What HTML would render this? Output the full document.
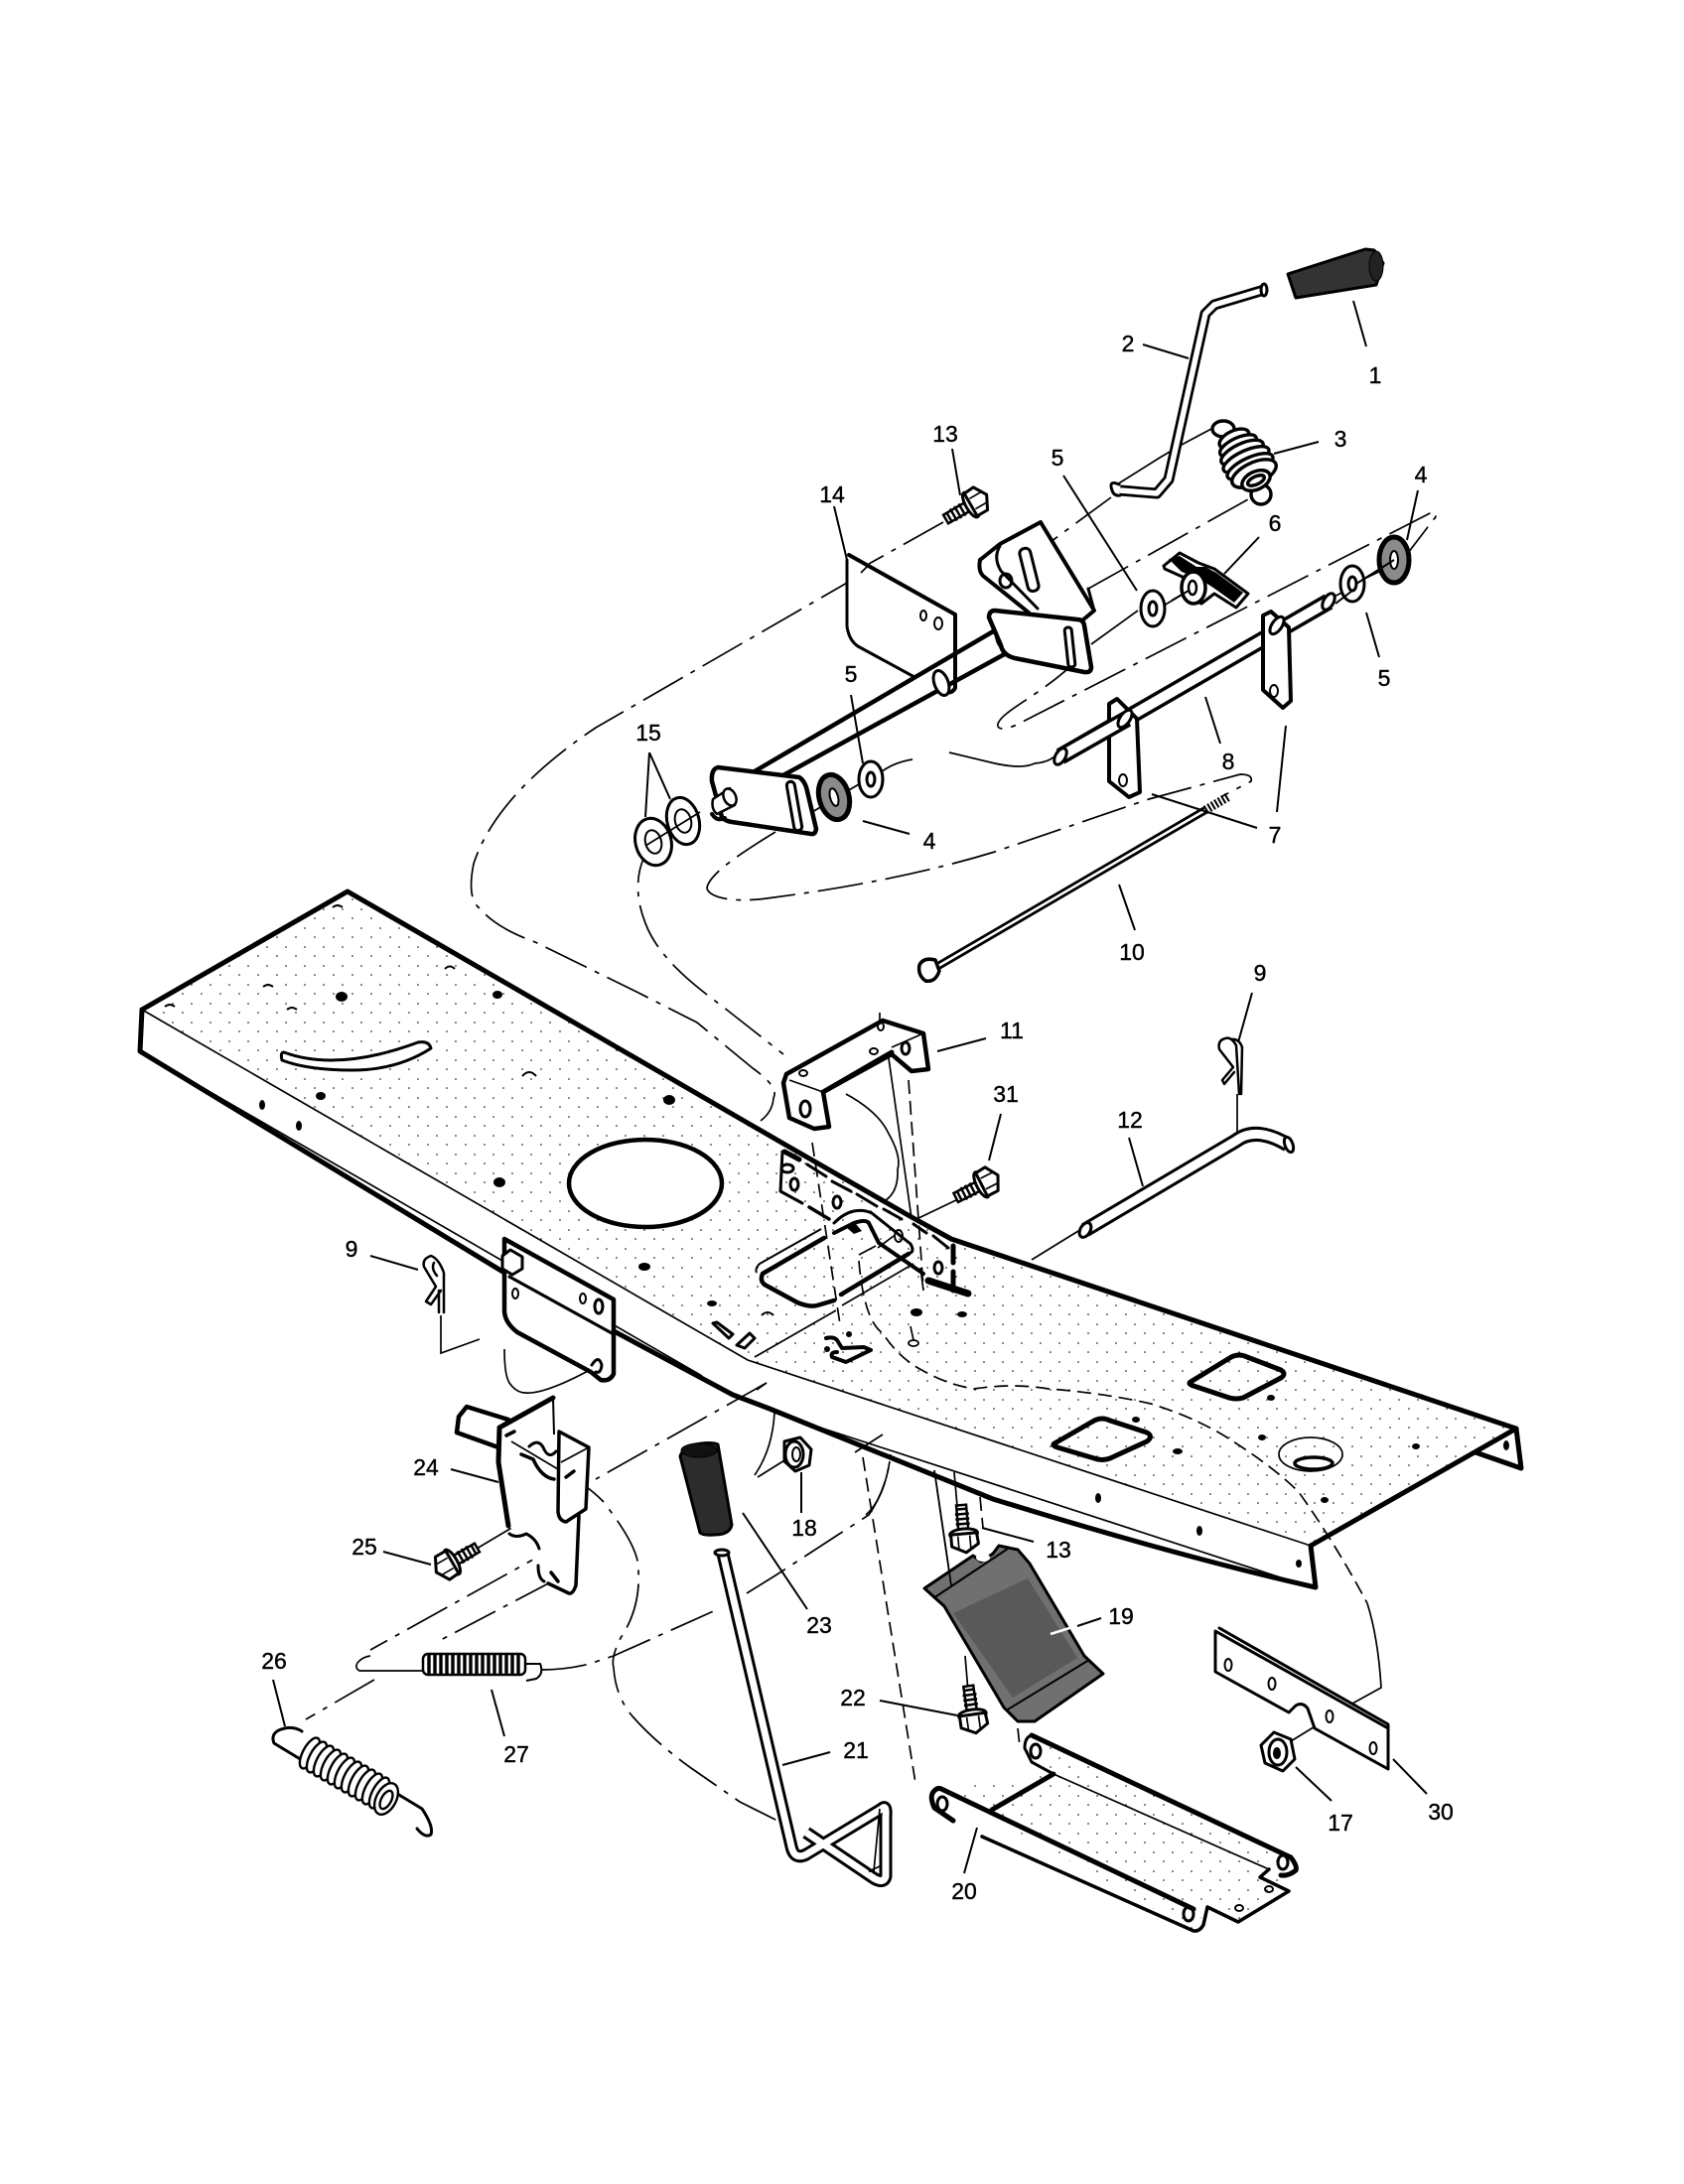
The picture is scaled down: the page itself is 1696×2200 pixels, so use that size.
<!DOCTYPE html>
<html><head><meta charset="utf-8"><title>Parts diagram</title>
<style>
html,body{margin:0;padding:0;background:#fff}
svg{display:block}
text{font-family:"Liberation Sans",sans-serif;font-size:23px;fill:#000;stroke:#000;stroke-width:.4;text-anchor:middle;dominant-baseline:central}
.t{fill:none;stroke:#000;stroke-width:5;stroke-linejoin:round;stroke-linecap:round}
.m{fill:none;stroke:#000;stroke-width:3;stroke-linejoin:round;stroke-linecap:round}
.n{fill:none;stroke:#000;stroke-width:1.7}
.l{fill:none;stroke:#000;stroke-width:2}
.d{fill:none;stroke:#000;stroke-width:1.7;stroke-dasharray:46 9 5 9}
.e{fill:none;stroke:#000;stroke-width:1.7;stroke-dasharray:14 7}
.w{fill:#fff;stroke:#000;stroke-width:3;stroke-linejoin:round}
.k{fill:#000}
.g{fill:#4a4a4a;stroke:#000;stroke-width:3;stroke-linejoin:round}
.tb{fill:none;stroke:#000;stroke-linecap:butt;stroke-linejoin:round}
.tw{fill:none;stroke:#fff;stroke-linecap:butt;stroke-linejoin:round}
</style></head><body>
<svg width="1696" height="2200" viewBox="0 0 1696 2200" xmlns="http://www.w3.org/2000/svg">
<defs>
<pattern id="st" width="19" height="19" patternUnits="userSpaceOnUse"><circle cx="3" cy="4" r=".8" fill="#000"/><circle cx="13" cy="13" r=".8" fill="#000"/></pattern>
<g id="bolt"><rect x="-34" y="-5" width="26" height="10" fill="#fff" stroke="#000" stroke-width="2.5"/>
<path d="M-30-6V6M-25-7V7M-20-7V7M-15-7V7" stroke="#000" stroke-width="2.5" fill="none"/>
<ellipse cx="-5" cy="0" rx="5" ry="14" class="w"/><path d="M-5-13L6-14L14-1L7 13L-5 13Z" class="w"/><path d="M-3-6L10-6M-3 6L10 6" class="n"/></g>
<g id="wash"><ellipse rx="12" ry="18" class="w"/><ellipse rx="4" ry="7" class="w"/></g>
<g id="dwash"><ellipse rx="15" ry="23" fill="#8a8a8a" stroke="#000" stroke-width="5"/><ellipse rx="4" ry="9" fill="#fff" stroke="#000" stroke-width="2"/></g>
</defs>

<!-- deck -->
<path d="M350,898L958,1249L1527,1439L1320,1557L753,1370L143,1017Z" fill="url(#st)"/>
<path class="t" d="M143,1017L350,898L789,1152L918,1226L958,1248L1527,1439L1532,1479L1486,1463"/>
<path class="t" d="M1527,1439L1320,1557L1325,1599Q1188,1568 1000,1510L775,1419L738,1405L508,1282L141,1059L143,1017"/>
<path class="n" d="M143,1017L753,1370L1320,1557M760,1367L842,1320M848,1315L920,1273M189,1087L707,1386M780,1423L1308,1595"/>
<ellipse cx="650" cy="1192" rx="77" ry="44" fill="#fff" stroke="#000" stroke-width="4.5"/>
<path class="m" style="fill:#fff" d="M286,1060Q340,1080 421,1050Q432,1048 434,1056Q400,1078 355,1078Q310,1078 284,1068Q282,1060 286,1060Z"/>
<g class="k">
<ellipse cx="344" cy="1004" rx="6" ry="5"/><ellipse cx="501" cy="1002" rx="5" ry="4"/><ellipse cx="674" cy="1108" rx="6" ry="5"/><ellipse cx="323" cy="1104" rx="5" ry="4"/><ellipse cx="264" cy="1113" rx="3" ry="5"/><ellipse cx="301" cy="1134" rx="3" ry="5"/><ellipse cx="503" cy="1191" rx="6" ry="5"/><ellipse cx="649" cy="1276" rx="6" ry="4"/><ellipse cx="717" cy="1313" rx="5" ry="3"/>
<ellipse cx="1280" cy="1408" rx="4" ry="3"/><ellipse cx="1144" cy="1430" rx="4" ry="3"/><ellipse cx="1186" cy="1462" rx="5" ry="3"/><ellipse cx="1271" cy="1448" rx="4" ry="3"/><ellipse cx="1426" cy="1457" rx="4" ry="3"/><ellipse cx="1334" cy="1511" rx="4" ry="3"/><ellipse cx="1106" cy="1509" rx="3" ry="5"/><ellipse cx="1208" cy="1542" rx="3" ry="5"/><ellipse cx="1308" cy="1575" rx="3" ry="4"/><ellipse cx="1517" cy="1456" rx="3" ry="5"/><ellipse cx="923" cy="1322" rx="6" ry="4"/><ellipse cx="969" cy="1324" rx="5" ry="3"/>
</g>
<ellipse cx="920" cy="1353" rx="5" ry="3" class="n"/>
<path class="l" d="M335,914Q340,910 345,914M448,976Q453,971 458,976M265,994Q270,990 275,994M166,1014Q171,1010 176,1014M289,1017Q294,1013 299,1017M526,1084Q533,1076 540,1084M767,1325Q773,1319 779,1325"/>
<path class="m" d="M718,1333L722,1332L738,1344L734,1348Z M742,1355L755,1343L760,1348L750,1358Z"/>
<!-- square holes -->
<path class="t" d="M1199,1392L1240,1367Q1248,1363 1256,1367L1290,1380Q1296,1384 1290,1388L1252,1408Q1245,1410 1238,1408L1202,1396Q1196,1394 1199,1392Z"/>
<path class="t" d="M1062,1454L1102,1431Q1110,1427 1118,1431L1155,1443Q1162,1447 1155,1452L1118,1469Q1110,1472 1102,1469L1065,1458Q1059,1456 1062,1454Z"/>
<ellipse cx="1320" cy="1465" rx="32" ry="17" class="n"/>
<ellipse cx="1323" cy="1474" rx="19" ry="6" fill="#fff" stroke="#000" stroke-width="3.5"/>

<!-- central bracket on deck -->
<path class="m" d="M788,1160L786,1200L808,1212"/>
<path class="t" style="stroke-width:3.5" d="M815,1216L835,1228"/>
<path class="m" d="M813,1173L832,1185M838,1190L857,1200M863,1203L883,1215M890,1218L908,1228M920,1233L933,1242M940,1245L955,1257"/>
<path class="t" d="M790,1160L805,1168"/>
<ellipse cx="793" cy="1177" rx="6" ry="4" class="m"/>
<ellipse cx="800" cy="1193" rx="4" ry="6" class="m"/><ellipse cx="843" cy="1211" rx="4" ry="6" class="m"/><ellipse cx="945" cy="1277" rx="4" ry="6" class="m"/>
<path class="t" style="stroke-width:4.5" d="M830,1247L768,1283Q765,1290 770,1294L803,1312Q815,1317 823,1315L840,1310"/>
<path class="n" style="stroke-width:2" d="M827,1238L765,1273Q760,1278 762,1282"/>
<path class="m" d="M840,1232Q850,1222 860,1220Q870,1218 878,1222L917,1253Q921,1260 917,1262L910,1265"/>
<path class="t" style="stroke-width:4.5" d="M847,1304L915,1263"/>
<path class="t" style="stroke-width:4" d="M840,1242L860,1232Q872,1228 875,1232L885,1252L930,1283"/>
<path class="k" d="M852,1236L862,1233L868,1240L860,1243Z"/>
<path class="n" d="M865,1264L882,1255M884,1257L900,1245"/>
<ellipse cx="905" cy="1245" rx="4" ry="6" class="l"/>
<path class="t" style="stroke-width:5" d="M960,1255L960,1272M960,1281L960,1300"/>
<path class="t" style="stroke-width:7" d="M935,1290L975,1303"/>
<path class="t" style="stroke-width:4" d="M832,1348Q840,1346 843,1350L848,1358L870,1357L877,1360L852,1372L838,1367Q836,1362 843,1362"/>
<circle cx="855" cy="1344" r="3" class="k"/><circle cx="833" cy="1359" r="3" class="k"/>

<!-- connectors -->
<path class="d" d="M950,526L875,568"/>
<path class="d" d="M867,579L600,733Q500,800 477,870Q470,905 483,915Q500,935 539,949L641,999L702,1030L758,1076Q785,1095 779,1106Q778,1120 766,1129"/>
<path class="d" d="M659,847C640,870 638,900 650,930C665,970 710,1000 733,1018L789,1062"/>
<path class="d" d="M781,838C745,860 715,880 712,894C712,903 735,910 772,905C850,895 930,880 1002,858L1157,805L1249,780Q1262,780 1260,787L1231,802"/>
<path class="d" d="M1088,662C1050,700 1010,715 1005,729C1003,738 1020,733 1030,727L1444,515Q1448,520 1444,523L1418,557"/>
<path class="d" d="M1096,593L1257,503"/>
<path class="d" d="M1028,568L1119,501"/>
<path class="n" d="M1220,432L1190,448L1168,461L1125,488"/>
<path class="n" d="M1099,649L1146,615M1172,610L1197,595M818,818L870,787"/>
<path class="n" d="M887,778Q900,768 919,765M956,758Q985,765 1002,769Q1030,775 1042,769Q1055,768 1062,762"/>
<path class="n" d="M1372,586L1338,604M1395,573L1372,584"/>
<path class="n" d="M444,1325L444,1363L483,1349M508,1359Q508,1385 513,1393Q520,1403 529,1403Q550,1405 605,1374"/>
<path class="e" d="M865,1270Q870,1330 889,1343Q905,1368 930,1381Q955,1395 981,1399Q1020,1393 1056,1399Q1110,1403 1159,1414Q1210,1430 1245,1454Q1285,1480 1308,1503Q1345,1555 1377,1615"/>
<path class="n" d="M1377,1615Q1388,1650 1391,1700L1362,1716"/>
<path class="e" d="M818,1151L846,1334M915,1088L930,1298M987,1508L990,1539M869,1468L922,1796M1025,1741L1027,1759"/>
<path class="n" d="M895,1066L918,1227M852,1102Q885,1120 895,1142Q908,1165 904,1178Q905,1200 892,1209M917,1336L920,1350M927,1277L930,1300"/>
<path class="d" d="M772,1393L600,1490"/>
<path class="d" d="M571,1552L373,1662M560,1591L440,1654M377,1692L308,1732M480,1560L517,1538"/>
<path class="n" d="M517,1538L560,1515M515,1452L562,1480M532,1473L528,1527"/>
<path class="n" d="M426,1683L362,1683Q357,1680 360,1675Q365,1669 373,1668"/>
<path class="d" d="M545,1682Q570,1682 594,1676Q605,1672 618,1668L723,1621M752,1605L781,1587L844,1546L875,1526Q893,1500 897,1465"/>
<path class="d" d="M571,1486Q590,1495 607,1512Q645,1560 643,1583Q645,1620 625,1650Q615,1670 618,1680Q620,1710 638,1730Q660,1755 696,1781L745,1815L783,1834"/>
<path class="n" d="M780,1423Q778,1460 760,1486M763,1488L795,1468M896,1472Q890,1510 872,1526M772,1393L762,1400M889,1445L861,1463M941,1481L958,1597M961,1483L964,1517M972,1668L975,1704M1300,1754L1339,1730"/>
<path class="n" d="M1039,1269L1086,1240M1246,1102L1246,1142M921,1229L967,1207"/>

<!-- 1 grip -->
<path class="g" style="fill:#333" d="M1297,276L1375,251L1384,252L1393,265L1386,287L1305,300Z"/>
<ellipse cx="1386" cy="268" rx="7" ry="15" fill="#222" stroke="#000"/>
<!-- 2 rod -->
<path class="tb" stroke-width="11" d="M1273,292L1223,307L1214,316L1177,483L1165,497L1128,494"/>
<path class="tw" stroke-width="5.5" d="M1273,292L1223,307L1214,316L1177,483L1165,497L1128,494"/>
<ellipse cx="1273" cy="292" rx="3" ry="6" class="w"/>
<path class="m" d="M1127,488Q1116,483 1120,494Q1122,500 1128,499"/>
<!-- 3 spring -->
<g fill="#fff" stroke="#000" stroke-width="3.4">
<ellipse cx="1232" cy="432" rx="11" ry="8"/>
<ellipse cx="1270" cy="498" rx="10" ry="10"/>
<ellipse cx="1243" cy="442" rx="16" ry="8" transform="rotate(-25 1243 442)"/>
<ellipse cx="1247" cy="449" rx="20" ry="8" transform="rotate(-25 1247 449)"/>
<ellipse cx="1251" cy="456" rx="23" ry="9" transform="rotate(-25 1251 456)"/>
<ellipse cx="1255" cy="463" rx="25" ry="9" transform="rotate(-25 1255 463)"/>
<ellipse cx="1259" cy="470" rx="25" ry="9" transform="rotate(-25 1259 470)"/>
<ellipse cx="1263" cy="477" rx="24" ry="11" transform="rotate(-25 1263 477)"/>
<ellipse cx="1265" cy="484" rx="15" ry="9" transform="rotate(-25 1265 484)"/>
<ellipse cx="1265" cy="484" rx="9" ry="4" transform="rotate(-25 1265 484)"/>
</g>

<use href="#bolt" transform="translate(982,506) rotate(-30)"/>

<!-- 14 bracket -->
<path d="M855,559L962,619L962,693L953,698L921,682L864,651L853,631Z" fill="#fff"/>
<path class="t" style="stroke-width:4" d="M855,559L962,619L962,693Q958,700 951,696"/>
<path class="m" d="M853,564L853,631Q855,645 864,651L921,682"/>
<ellipse cx="930" cy="620" rx="3" ry="5" class="l"/><ellipse cx="945" cy="628" rx="4" ry="6" class="l"/>
<path class="n" d="M867,577L874,570"/>
<!-- main tube -->
<path class="t" style="stroke-width:4.5" d="M1002,635L760,777M1019,655L787,782"/>
<ellipse cx="1012" cy="643" rx="8" ry="13" class="w" transform="rotate(-20 1012 643)"/>
<ellipse cx="948" cy="688" rx="7" ry="13" class="w" transform="rotate(-20 948 688)"/>
<!-- upper rear bracket -->
<path d="M1048,526L1102,615L1090,625L1036,617L987,564Q990,555 1007,548Z" fill="#fff"/>
<path class="t" style="stroke-width:4" d="M987,564L1007,548L1048,526L1102,615L1090,625M987,564Q985,575 990,580L1036,617"/>
<path class="m" d="M1007,550Q1000,562 1008,575L1045,613M1096,593L1102,615"/>
<rect x="1031" y="552" width="11" height="44" rx="5" class="m" transform="rotate(-14 1036 574)"/>
<ellipse cx="1013" cy="585" rx="6" ry="7" class="m"/>
<!-- mid plate -->
<path class="w" style="stroke-width:4.5" d="M1002,615L1085,624Q1091,624 1092,630L1099,672Q1099,678 1092,677L1022,663Q1010,660 1008,650L996,622Q996,615 1002,615Z"/>
<rect x="1074" y="632" width="7" height="40" rx="3" class="m" transform="rotate(-6 1077 652)"/>
<!-- left plate -->
<path class="w" style="stroke-width:4.5" d="M723,773L805,783Q811,787 813,797L822,835Q821,841 817,840L737,828Q730,827 727,823L717,787Q716,775 723,773Z"/>
<rect x="796" y="787" width="8" height="50" rx="4" class="m" transform="rotate(-10 800 812)"/>
<path class="w" style="stroke-width:2.5" d="M735,794L718,805Q716,815 722,820L740,811Z"/>
<ellipse cx="735" cy="803" rx="6" ry="9" class="w" style="stroke-width:2.5" transform="rotate(-25 735 803)"/>
<path class="t" style="stroke-width:4" d="M717,820Q722,828 730,824"/>
<!-- washers -->
<use href="#wash" transform="translate(1161,613)"/>
<use href="#wash" transform="translate(1362,588)"/>
<use href="#wash" transform="translate(877,785)"/>
<use href="#dwash" transform="translate(1404,564)"/>
<use href="#dwash" transform="translate(840,803) rotate(-15)"/>
<g transform="rotate(-15 688 827)"><ellipse cx="688" cy="827" rx="16" ry="24" class="w"/><ellipse cx="688" cy="827" rx="8" ry="12" class="l"/></g>
<g transform="rotate(-15 658 848)"><ellipse cx="658" cy="848" rx="18" ry="24" class="w"/><ellipse cx="658" cy="848" rx="8" ry="12" class="l"/></g>
<path class="n" d="M705,818L650,852"/>
<!-- 6 wing nut -->
<path class="w" style="stroke-width:3" d="M1172,570L1188,557L1207,567L1223,573L1257,598L1245,612L1223,598L1210,608L1193,600L1193,582L1173,573Z"/>
<path class="k" d="M1177,563L1188,560L1205,571L1214,571L1225,577L1252,597L1243,607L1222,592L1205,581L1190,576Z"/>
<ellipse cx="1202" cy="592" rx="12" ry="16" fill="#fff" stroke="#000" stroke-width="3.5"/><ellipse cx="1201" cy="592" rx="4" ry="7" fill="#fff" stroke="#000" stroke-width="2.5"/>
<path class="l" d="M1197,595L1180,605M1345,608L1362,595M1366,588L1404,564"/>
<!-- 8 shaft -->
<path class="tb" stroke-width="17" d="M1338,606L1068,762"/>
<path class="tw" stroke-width="10" d="M1338,606L1068,762"/>
<ellipse cx="1338" cy="606" rx="5" ry="9" class="w" transform="rotate(30 1338 606)"/>
<path class="w" style="stroke-width:4" d="M1272,620L1280,616L1298,632L1300,706L1292,713L1272,695Z"/>
<ellipse cx="1286" cy="630" rx="5" ry="10" class="w" transform="rotate(35 1286 630)"/>
<ellipse cx="1283" cy="696" rx="4" ry="6" class="l"/>
<path class="w" style="stroke-width:4" d="M1117,709L1125,704L1145,724L1148,798L1137,803L1117,787Z"/>
<path class="tb" stroke-width="17" d="M1135,724L1068,762"/><path class="tw" stroke-width="10" d="M1135,724L1068,762"/>
<ellipse cx="1133" cy="724" rx="5" ry="10" class="w" transform="rotate(35 1133 724)"/>
<ellipse cx="1131" cy="786" rx="4" ry="6" class="l"/>
<ellipse cx="1068" cy="762" rx="5" ry="9" class="w" transform="rotate(30 1068 762)"/>
<!-- 10 rod -->
<path class="tb" stroke-width="8" d="M1214,816L945,973"/><path class="tw" stroke-width="2.5" d="M1214,816L945,973"/>
<path class="tb" stroke-width="9" stroke-dasharray="2 2" d="M1214,816L1238,802"/>
<path class="w" style="stroke-width:3.5" d="M942,967Q930,964 926,972Q924,982 932,988Q942,990 946,978Z"/>
<!-- 11 bracket -->
<path class="w" style="stroke-width:4.5" d="M889,1028L930,1041L935,1077L918,1079L898,1062L829,1100L835,1135L820,1137L795,1126L789,1091L792,1082Z"/>
<path class="n" d="M795,1088L829,1100M898,1055L930,1041"/>
<path class="t" d="M829,1100L898,1060"/>
<ellipse cx="811" cy="1117" rx="5" ry="8" class="m"/><ellipse cx="912" cy="1056" rx="4" ry="6" class="m"/>
<ellipse cx="880" cy="1059" rx="4" ry="3" class="l"/><ellipse cx="809" cy="1081" rx="4" ry="3" class="l"/><ellipse cx="887" cy="1034" rx="3" ry="4" class="l"/>
<path class="n" d="M886,1020L886,1030"/>
<use href="#bolt" transform="translate(993,1191) rotate(-27)"/>
<!-- 12 tube -->
<path class="tb" stroke-width="15" d="M1093,1239L1245,1149Q1265,1134 1297,1153"/>
<path class="tw" stroke-width="9" d="M1093,1239L1245,1149Q1265,1134 1297,1153"/>
<ellipse cx="1093" cy="1239" rx="5" ry="8" class="w" transform="rotate(30 1093 1239)"/>
<ellipse cx="1298" cy="1153" rx="4" ry="8" class="w" transform="rotate(-20 1298 1153)"/>
<!-- clips -->
<path class="m" style="stroke-width:2.5" d="M1248,1102L1245,1053Q1240,1044 1234,1046Q1226,1048 1228,1057L1242,1075L1231,1088L1233,1092L1243,1080M1250,1102L1251,1055Q1248,1046 1240,1047"/>
<path class="m" style="stroke-width:2.5" d="M447,1322L447,1282Q442,1268 434,1265Q425,1268 427,1276L439,1296L429,1311L434,1314L444,1300M442,1322L442,1300M440,1285Q434,1278 437,1272"/>
<!-- side plate -->
<path class="w" style="stroke-width:4.5" d="M508,1248L618,1309L618,1384Q614,1392 605,1390L595,1382L521,1342Q508,1332 508,1320Z"/>
<path class="m" d="M513,1286L618,1344"/>
<path class="w" d="M506,1265L514,1259L526,1266L526,1278L516,1284L506,1278Z"/>
<ellipse cx="519" cy="1303" rx="3" ry="5" class="l"/><ellipse cx="587" cy="1308" rx="3" ry="5" class="l"/><ellipse cx="603" cy="1316" rx="4" ry="7" class="m"/><path class="m" d="M596,1375Q603,1364 606,1375Q605,1384 600,1382"/>
<!-- 24 bracket -->
<path class="w" style="stroke-width:4.5" d="M470,1417L512,1430L502,1458L460,1443L462,1427Z"/>
<path d="M503,1438L557,1408L558,1440L563,1442L593,1458L590,1520L583,1527L580,1597L573,1605L552,1595L513,1537L502,1473Z" fill="#fff"/>
<path class="t" d="M503,1438L557,1408M503,1438L502,1473L512,1537"/>
<path class="l" d="M557,1408L558,1445"/>
<path class="m" style="stroke-width:3.5" d="M583,1527L580,1597Q577,1606 573,1605L552,1595"/>
<path class="m" style="stroke-width:3.5;fill:#fff" d="M563,1442L593,1458L590,1520L570,1533Q563,1532 562,1523Z"/>
<path class="n" d="M565,1473L593,1458"/>
<path class="m" d="M533,1457Q543,1448 548,1460Q553,1470 560,1462"/>
<path class="t" style="stroke-width:3.5" d="M525,1465L537,1470Q545,1488 558,1490M510,1446L518,1442M570,1488L578,1482M555,1584L562,1593"/>
<path class="m" d="M513,1545Q520,1550 530,1545Q540,1550 543,1560M542,1577Q542,1590 548,1593"/>
<path class="n" d="M515,1452L562,1480"/>
<use href="#bolt" transform="translate(451,1576) rotate(150)"/>
<!-- 27 spring -->
<rect x="426" y="1666" width="103" height="21" rx="5" fill="#fff" stroke="#000" stroke-width="2.5"/>
<path stroke="#000" stroke-width="3.4" fill="none" d="M432,1666v21M438,1666v21M444,1666v21M450,1666v21M456,1666v21M462,1666v21M468,1666v21M474,1666v21M480,1666v21M486,1666v21M492,1666v21M498,1666v21M504,1666v21M510,1666v21M516,1666v21M522,1666v21"/>
<path class="l" d="M529,1676L544,1676Q548,1686 540,1691L530,1693"/>
<!-- 26 spring -->
<path class="m" d="M304,1773L276,1756Q272,1746 283,1742Q295,1738 304,1744"/>
<path class="m" d="M397,1805L425,1822Q437,1840 434,1848Q428,1852 420,1842"/>
<g fill="#fff" stroke="#000" stroke-width="2.4">
<ellipse cx="312" cy="1766" rx="7" ry="17" transform="rotate(28 312 1766)"/><ellipse cx="319" cy="1770" rx="7" ry="17" transform="rotate(28 319 1770)"/><ellipse cx="326" cy="1774" rx="7" ry="17" transform="rotate(28 326 1774)"/><ellipse cx="333" cy="1778" rx="7" ry="17" transform="rotate(28 333 1778)"/><ellipse cx="340" cy="1782" rx="7" ry="17" transform="rotate(28 340 1782)"/><ellipse cx="347" cy="1786" rx="7" ry="17" transform="rotate(28 347 1786)"/><ellipse cx="354" cy="1790" rx="7" ry="17" transform="rotate(28 354 1790)"/><ellipse cx="361" cy="1794" rx="7" ry="17" transform="rotate(28 361 1794)"/><ellipse cx="368" cy="1798" rx="7" ry="17" transform="rotate(28 368 1798)"/><ellipse cx="375" cy="1802" rx="7" ry="17" transform="rotate(28 375 1802)"/><ellipse cx="382" cy="1806" rx="7" ry="17" transform="rotate(28 382 1806)"/><ellipse cx="389" cy="1812" rx="10" ry="17" transform="rotate(28 389 1812)"/><ellipse cx="389" cy="1813" rx="5" ry="10" transform="rotate(28 389 1813)"/>
</g>
<!-- 23 grip -->
<path class="g" style="fill:#2c2c2c" d="M685,1467Q688,1458 700,1455Q716,1452 723,1455L737,1536Q735,1546 720,1546Q708,1547 705,1544Z"/>
<ellipse cx="704" cy="1461" rx="18" ry="7" fill="#111" stroke="#000"/>
<!-- 21 rod -->
<path class="tb" stroke-width="13" d="M728,1565L797,1860Q800,1874 812,1868L888,1822Q893,1817 892,1830L892,1890Q890,1898 880,1892L812,1846"/>
<path class="tw" stroke-width="7" d="M728,1565L797,1860Q800,1874 812,1868L888,1822Q893,1817 892,1830L892,1890Q890,1898 880,1892L812,1846"/>
<ellipse cx="727" cy="1564" rx="7" ry="3" class="w"/>
<path class="n" d="M886,1822L880,1885L875,1885L886,1880"/>
<!-- 18 nut -->
<path class="w" d="M790,1452L806,1448L817,1460L815,1476L801,1482L790,1472Z"/>
<ellipse cx="800" cy="1465" rx="9" ry="13" class="w"/><ellipse cx="802" cy="1465" rx="4" ry="7" class="l"/>
<!-- 13 lower, 22 -->
<use href="#bolt" transform="translate(971,1550) rotate(85)"/>
<use href="#bolt" transform="translate(980,1732) rotate(82)"/>
<!-- 19 pedal -->
<path class="g" style="fill:#707070" d="M931,1600L980,1567L988,1573L1000,1565L1006,1557L1025,1561L1037,1575L1092,1668L1111,1686L1042,1734L1025,1734L1011,1720L951,1618Z"/>
<path class="l" d="M940,1610L1015,1560M1015,1722L1097,1672"/>
<path fill="#2f2f2f" d="M960,1625L1035,1590L1085,1670L1020,1710Z" opacity=".35"/>
<ellipse cx="990" cy="1569" rx="7" ry="4" fill="#fff"/>
<path d="M1109,1630L1058,1646" stroke="#fff" stroke-width="2.5"/>
<path d="M1109,1630L1085,1638" stroke="#000" stroke-width="2"/>
<path class="n" d="M941,1481L958,1597"/>
<!-- 20 -->
<path d="M1039,1748L1300,1871L1305,1884L1278,1883L1298,1905L1247,1936L1216,1921L1202,1945L948,1802L1061,1787Z" fill="url(#st)"/>
<path class="t" d="M1039,1748L1300,1871Q1307,1880 1305,1884Q1298,1890 1290,1889"/>
<path class="m" style="stroke-width:3.5" d="M1278,1883L1269,1891L1298,1905L1247,1936L1216,1921L1212,1939Q1208,1946 1202,1945L989,1850"/>
<path class="t" d="M948,1802L1202,1923M960,1834L941,1821Q936,1810 940,1805Q944,1800 948,1802M999,1823L1061,1787"/>
<path class="m" d="M1061,1787L1039,1775L1032,1761Q1032,1750 1039,1748"/>
<path class="n" d="M1061,1787L1278,1883"/>
<ellipse cx="1043" cy="1764" rx="5" ry="7" class="m"/><ellipse cx="1292" cy="1876" rx="5" ry="7" class="m"/><ellipse cx="1197" cy="1928" rx="5" ry="7" class="m"/><ellipse cx="949" cy="1817" rx="5" ry="7" class="m"/><ellipse cx="1278" cy="1903" rx="4" ry="3" class="l"/><ellipse cx="1248" cy="1922" rx="4" ry="3" class="l"/>
<!-- 30 -->
<path class="m" style="fill:#fff" d="M1224,1643L1398,1741L1398,1782L1324,1741L1317,1721Q1312,1714 1305,1718L1298,1725L1224,1684Z"/>
<path class="m" d="M1228,1640L1398,1737L1398,1741"/>
<ellipse cx="1237" cy="1677" rx="3.5" ry="6" class="l"/><ellipse cx="1281" cy="1696" rx="3.5" ry="6" class="l"/><ellipse cx="1339" cy="1729" rx="3.5" ry="6" class="l"/><ellipse cx="1383" cy="1761" rx="3.5" ry="6" class="l"/>
<!-- 17 -->
<path class="w" d="M1270,1758L1283,1745L1300,1752L1304,1772L1292,1784L1274,1776Z"/>
<ellipse cx="1287" cy="1765" rx="9" ry="13" class="w"/><ellipse cx="1286" cy="1766" rx="4" ry="6" class="k"/>

<!-- leaders -->
<g class="l">
<path d="M1363,303L1376,349M1151,347L1197,361M1283,457L1328,445M1428,494L1417,544M1071,479L1145,595M1268,541L1233,578M959,452L967,499M840,510L853,564M1376,617L1389,662M1214,702L1229,749M1295,731L1286,818M1160,800L1266,834M869,827L916,840M857,700L869,769M654,758L650,823M654,758L675,805M1127,891L1143,937M944,1059L993,1046M1008,1122L996,1169M1137,1146L1151,1195M1261,1000L1247,1050M373,1265L421,1279M454,1480L502,1493M386,1563L434,1576M275,1692L287,1739M495,1702L508,1749M807,1483L807,1524M748,1524L813,1621M989,1539L1041,1553M886,1713L964,1728M836,1765L788,1778M984,1841L971,1887M1305,1780L1341,1814M1403,1772L1437,1807"/>
</g>

<!-- labels -->
<g>
<text x="1385" y="378">1</text><text x="1136" y="346">2</text><text x="1350" y="442">3</text><text x="1431" y="478">4</text><text x="1065" y="461">5</text><text x="1284" y="527">6</text><text x="952" y="437">13</text><text x="838" y="498">14</text><text x="1394" y="683">5</text><text x="1237" y="767">8</text><text x="1284" y="841">7</text><text x="857" y="679">5</text><text x="653" y="738">15</text><text x="936" y="847">4</text><text x="1140" y="959">10</text><text x="1269" y="980">9</text><text x="1019" y="1038">11</text><text x="1013" y="1102">31</text><text x="1138" y="1128">12</text><text x="354" y="1258">9</text><text x="429" y="1478">24</text><text x="367" y="1558">25</text><text x="276" y="1673">26</text><text x="520" y="1767">27</text><text x="810" y="1539">18</text><text x="825" y="1637">23</text><text x="1066" y="1561">13</text><text x="1129" y="1628">19</text><text x="859" y="1710">22</text><text x="862" y="1763">21</text><text x="971" y="1905">20</text><text x="1350" y="1836">17</text><text x="1451" y="1825">30</text>
</g>
</svg>
</body></html>
